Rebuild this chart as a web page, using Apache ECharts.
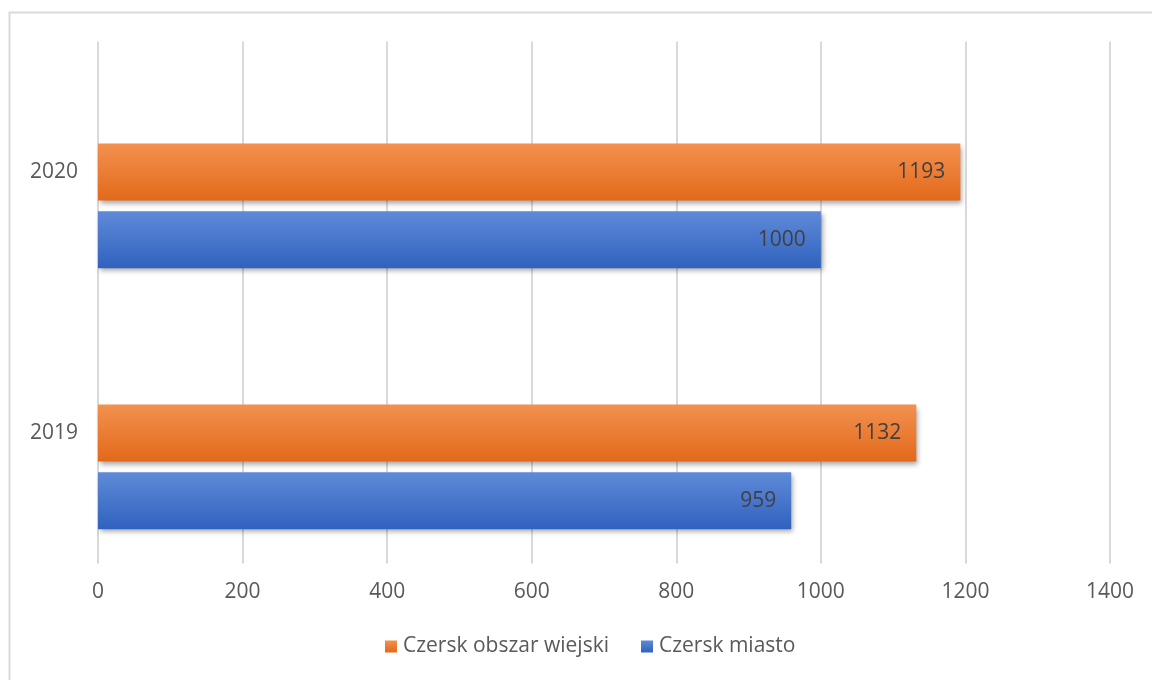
<!DOCTYPE html>
<html><head><meta charset="utf-8">
<script src="https://cdn.jsdelivr.net/npm/echarts@6/dist/echarts.min.js"></script>
<style>html,body{margin:0;padding:0;background:#fff}#c{width:1152px;height:680px}</style>
</head><body><div id="c"></div>
<script>
const categories = ['2019', '2020'];
const ruralName = 'Czersk obszar wiejski';
const townName = 'Czersk miasto';
const ruralValues = [1132, 1193];
const townValues = [959, 1000];
const emptyValues = [0, 0];
const xTicks = [0, 200, 400, 600, 800, 1000, 1200, 1400];

const font = 'Open Sans';
const chart = echarts.init(document.getElementById('c'));
function grad(top, bottom) {
  return new echarts.graphic.LinearGradient(0, 0, 0, 1, [
    { offset: 0, color: top }, { offset: 1, color: bottom }
  ]);
}
const labelCfg = { show: true, position: 'insideRight', distance: 15, color: '#404040', fontSize: 21, fontFamily: font };
chart.setOption({
  animation: false,
  graphic: [{ type: 'rect', shape: { x: 9.5, y: 12.5, width: 1200, height: 700 }, style: { fill: 'none', stroke: '#d9d9d9', lineWidth: 2 }, silent: true }],
  grid: { left: 98, right: 42, top: 41.5, bottom: 116.5, containLabel: false },
  legend: {
    data: [ruralName, townName], bottom: 18, left: 380, itemWidth: 12, itemHeight: 12, itemGap: 32,
    icon: 'rect', textStyle: { color: '#595959', fontSize: 21, fontFamily: font, padding: [0, 0, 0, 1] }
  },
  xAxis: {
    type: 'value', min: xTicks[0], max: xTicks[xTicks.length - 1], interval: xTicks[1] - xTicks[0],
    axisLine: { show: false }, axisTick: { show: false },
    splitLine: { show: true, lineStyle: { color: '#d9d9d9', width: 2 } },
    axisLabel: { color: '#595959', fontSize: 21, fontFamily: font, margin: 18, formatter: v => String(v) }
  },
  yAxis: {
    type: 'category', data: categories,
    axisLine: { show: false }, axisTick: { show: false },
    axisLabel: { color: '#595959', fontSize: 21, fontFamily: font, margin: 20 }
  },
  series: [
    { name: '', type: 'bar', data: emptyValues, barWidth: 57, barGap: '19%', itemStyle: { color: 'rgba(0,0,0,0)' } },
    { name: ruralName, type: 'bar', data: ruralValues, barWidth: 57, barGap: '19%',
      itemStyle: { color: grad('#f3914f', '#e2691a'), shadowColor: 'rgba(0,0,0,0.35)', shadowBlur: 5, shadowOffsetX: 2, shadowOffsetY: 3 },
      label: labelCfg },
    { name: townName, type: 'bar', data: townValues, barWidth: 57, barGap: '19%',
      itemStyle: { color: grad('#5f8ad8', '#2f62bf'), shadowColor: 'rgba(0,0,0,0.35)', shadowBlur: 5, shadowOffsetX: 2, shadowOffsetY: 3 },
      label: labelCfg }
  ]
});
</script></body></html>
